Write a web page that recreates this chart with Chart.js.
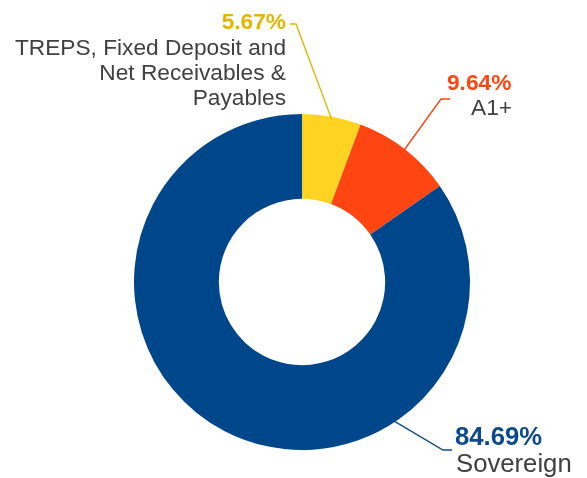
<!DOCTYPE html>
<html><head><meta charset="utf-8">
<script src="https://cdn.jsdelivr.net/npm/chart.js@4.4.0/dist/chart.umd.min.js"></script>
<style>html,body{margin:0;padding:0;background:#fff;}canvas{display:block;}</style>
</head><body>
<canvas id="c" width="587" height="478"></canvas>
<script>
const categories = [["TREPS, Fixed Deposit and","Net Receivables &","Payables"], ["A1+"], ["Sovereign"]];
const values = [5.67, 9.64, 84.69];
const valueLabels = ["5.67%", "9.64%", "84.69%"];
const sliceColors = ["#FFD322", "#FF4511", "#00468B"];
const labelColors = ["#E3B505", "#FF4511", "#0D4A8C"];

// label layout: anchor angle (deg, clockwise from top; null=mid), elbow, text positions (baselines)
const labelLayout = [
  {angle: null, elbow: [296, 24], end: [290, 24], align: 'right', size: 22.7, tx: 286, vx: 286, ty: 29, lineY: [55, 80, 105]},
  {angle: null, elbow: [441, 99], end: [450, 99], align: 'left', size: 22.7, tx: 471, vx: 447, ty: 90, lineY: [115]},
  {angle: 146.6, elbow: [443, 450], end: [452, 450], align: 'left', size: 25.7, tx: 456, vx: 455, ty: 445, lineY: [472]}
];

const labelPlugin = {
  id: 'labels',
  afterDraw(chart) {
    const ctx = chart.ctx;
    const arcs = chart.getDatasetMeta(0).data;
    arcs.forEach((arc, i) => {
      const L = labelLayout[i];
      const p = arc.getProps(['x','y','startAngle','endAngle','outerRadius'], true);
      let a = L.angle === null ? (p.startAngle + p.endAngle) / 2 : (L.angle - 90) * Math.PI / 180;
      const r = p.outerRadius - 2;
      const ax = p.x + r * Math.cos(a), ay = p.y + r * Math.sin(a);
      ctx.save();
      ctx.strokeStyle = labelColors[i];
      ctx.lineWidth = 1.4;
      ctx.beginPath();
      ctx.moveTo(ax, ay);
      ctx.lineTo(L.elbow[0], L.elbow[1]);
      ctx.lineTo(L.end[0], L.end[1]);
      ctx.stroke();
      ctx.textAlign = L.align;
      ctx.textBaseline = 'alphabetic';
      ctx.fillStyle = labelColors[i];
      ctx.font = 'bold ' + L.size + 'px "Liberation Sans", Arial, sans-serif';
      ctx.fillText(valueLabels[i], L.vx, L.ty);
      ctx.fillStyle = '#404040';
      ctx.font = L.size + 'px "Liberation Sans", Arial, sans-serif';
      categories[i].forEach((t, k) => ctx.fillText(t, L.tx, L.lineY[k]));
      ctx.restore();
    });
  }
};

new Chart(document.getElementById('c'), {
  type: 'doughnut',
  data: {
    labels: categories.map(c => c.join(' ')),
    datasets: [{ data: values, backgroundColor: sliceColors, borderWidth: 0 }]
  },
  options: {
    responsive: false,
    animation: false,
    cutout: '49.5%',
    rotation: 0,
    layout: { padding: { top: 114, bottom: 28, left: 134, right: 117 } },
    plugins: { legend: { display: false }, tooltip: { enabled: false } }
  },
  plugins: [labelPlugin]
});
</script>
</body></html>
